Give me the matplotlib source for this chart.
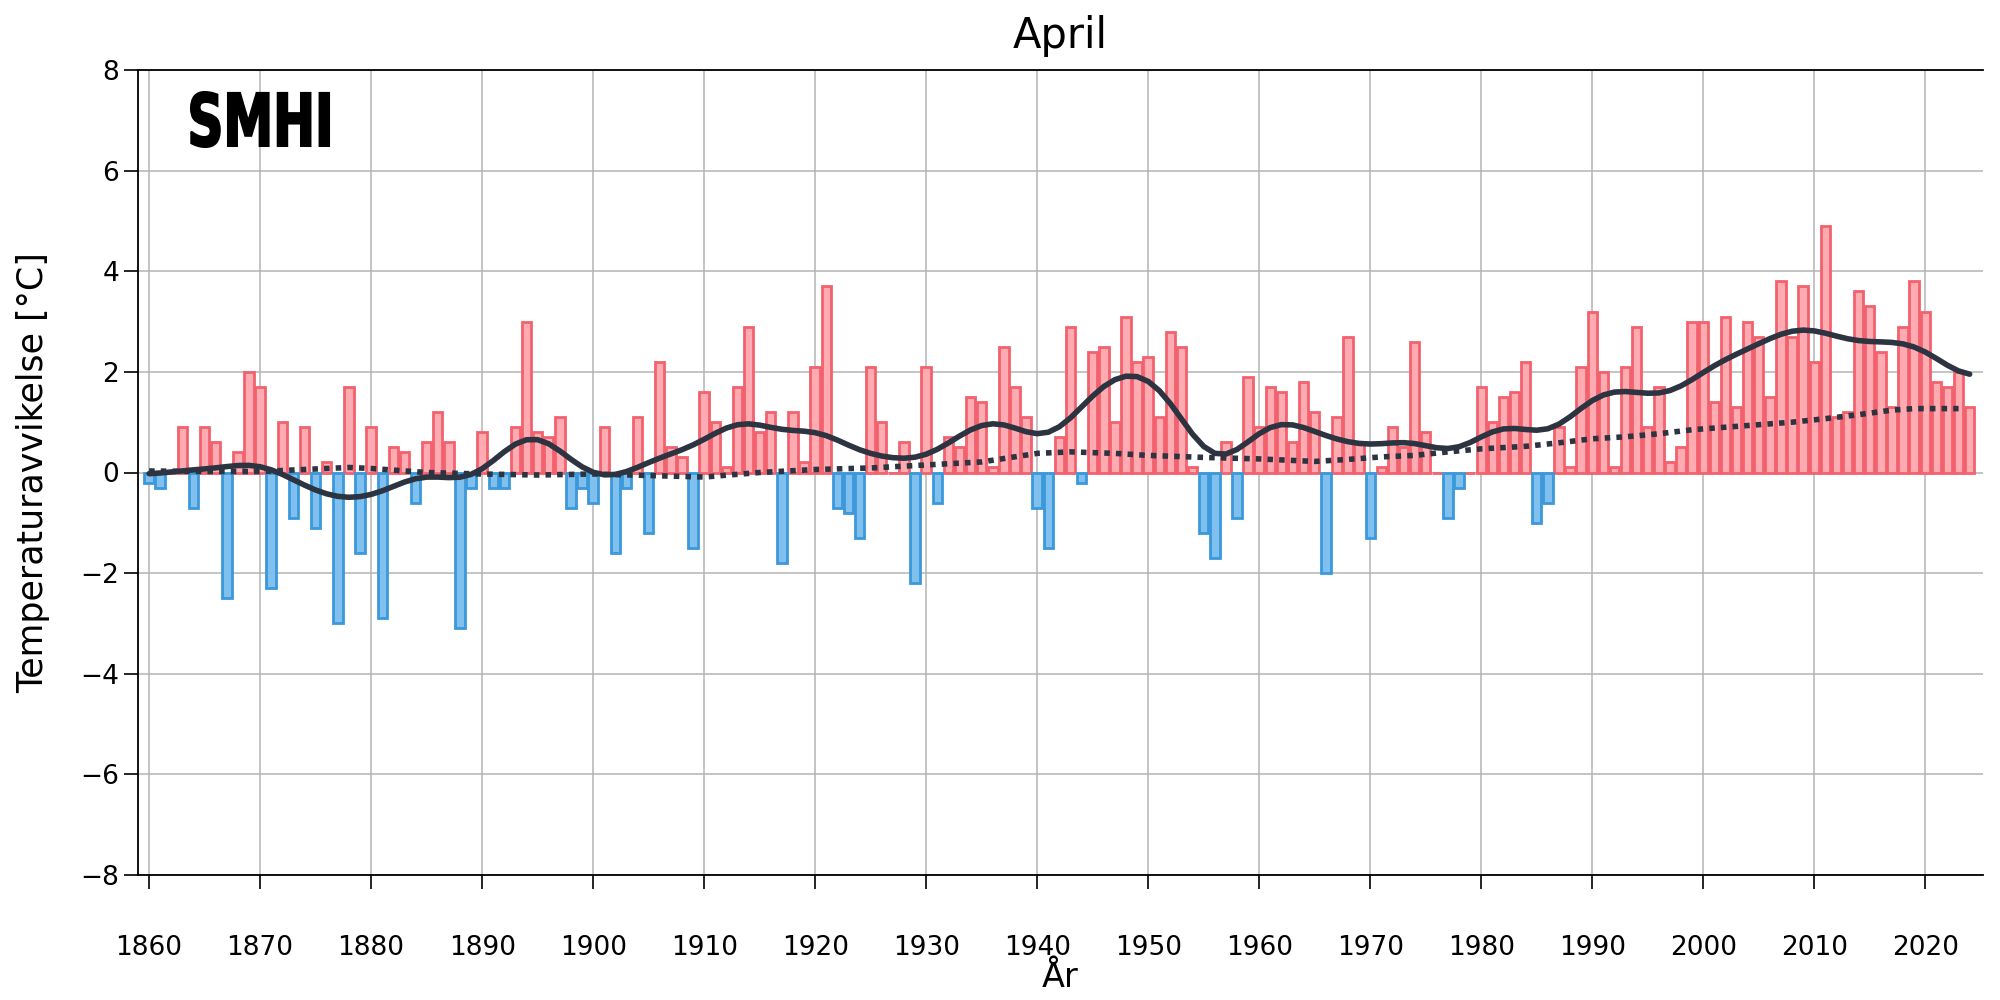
import numpy as np
import matplotlib
matplotlib.use("Agg")
from matplotlib import pyplot as plt
from matplotlib.textpath import TextPath
from matplotlib.patches import PathPatch
from matplotlib.font_manager import FontProperties
from matplotlib.transforms import Affine2D

# April temperature anomalies, 1860-2024
years = np.arange(1860, 2025)
anomaly = [
    -0.2, -0.3, 0.0, 0.9, -0.7, 0.9, 0.6, -2.5, 0.4, 2.0,    # 1860s
    1.7, -2.3, 1.0, -0.9, 0.9, -1.1, 0.2, -3.0, 1.7, -1.6,   # 1870s
    0.9, -2.9, 0.5, 0.4, -0.6, 0.6, 1.2, 0.6, -3.1, -0.3,    # 1880s
    0.8, -0.3, -0.3, 0.9, 3.0, 0.8, 0.7, 1.1, -0.7, -0.3,    # 1890s
    -0.6, 0.9, -1.6, -0.3, 1.1, -1.2, 2.2, 0.5, 0.3, -1.5,   # 1900s
    1.6, 1.0, 0.1, 1.7, 2.9, 0.8, 1.2, -1.8, 1.2, 0.2,       # 1910s
    2.1, 3.7, -0.7, -0.8, -1.3, 2.1, 1.0, 0.0, 0.6, -2.2,    # 1920s
    2.1, -0.6, 0.7, 0.5, 1.5, 1.4, 0.1, 2.5, 1.7, 1.1,       # 1930s
    -0.7, -1.5, 0.7, 2.9, -0.2, 2.4, 2.5, 1.0, 3.1, 2.2,     # 1940s
    2.3, 1.1, 2.8, 2.5, 0.1, -1.2, -1.7, 0.6, -0.9, 1.9,     # 1950s
    0.9, 1.7, 1.6, 0.6, 1.8, 1.2, -2.0, 1.1, 2.7, 0.6,       # 1960s
    -1.3, 0.1, 0.9, 0.5, 2.6, 0.8, 0.0, -0.9, -0.3, 0.0,     # 1970s
    1.7, 1.0, 1.5, 1.6, 2.2, -1.0, -0.6, 0.9, 0.1, 2.1,      # 1980s
    3.2, 2.0, 0.1, 2.1, 2.9, 0.9, 1.7, 0.2, 0.5, 3.0,        # 1990s
    3.0, 1.4, 3.1, 1.3, 3.0, 2.7, 1.5, 3.8, 2.7, 3.7,        # 2000s
    2.2, 4.9, 1.1, 1.2, 3.6, 3.3, 2.4, 1.3, 2.9, 3.8,        # 2010s
    3.2, 1.8, 1.7, 2.0, 1.3,                                  # 2020s
]

# dotted long-term curve
trend_years = [1860, 1865, 1870, 1875, 1878, 1880, 1885, 1890, 1895, 1900,
               1905, 1910, 1915, 1920, 1925, 1930, 1935, 1940, 1943, 1947,
               1950, 1955, 1960, 1965, 1968, 1971, 1974, 1977, 1980, 1984,
               1987, 1990, 1993, 1996, 1999, 2002, 2005, 2008, 2011, 2014,
               2017, 2019, 2023]
trend_values = [0.03, 0.02, 0.02, 0.07, 0.1, 0.08, 0.0, -0.03, -0.05, -0.03,
                -0.06, -0.09, 0.0, 0.06, 0.09, 0.15, 0.21, 0.38, 0.41, 0.38,
                0.34, 0.30, 0.27, 0.22, 0.26, 0.31, 0.34, 0.41, 0.47, 0.52,
                0.59, 0.67, 0.71, 0.77, 0.85, 0.90, 0.95, 1.0, 1.07, 1.15,
                1.24, 1.27, 1.27]

x_ticks = list(range(1860, 2021, 10))
y_ticks = list(range(-8, 9, 2))


def gauss_smooth(values, sigma=3):
    # gaussian filter, about a ten-year mean
    v = np.asarray(values, dtype=float)
    r = int(4 * sigma + 0.5)
    k = np.exp(-0.5 * (np.arange(-r, r + 1) / sigma) ** 2)
    k = k / k.sum()
    padded = np.pad(v, r, mode="symmetric")
    return np.convolve(padded, k, mode="valid")


anom = np.array(anomaly)
pos = anom >= 0

fig = plt.figure(figsize=(20, 10), dpi=100)
ax = fig.add_axes([0.069, 0.125, 0.9225, 0.805])

ax.grid(True, color="#b4b4b4", linewidth=1.1, zorder=0)
ax.bar(years[pos], anom[pos], width=0.85, color="#ffabb1", edgecolor="#f2616d",
       linewidth=2, zorder=2)
ax.bar(years[~pos], anom[~pos], width=0.85, color="#80c0ee", edgecolor="#3b98da",
       linewidth=2, zorder=2)

ax.plot(trend_years, trend_values, color="#2b3440", linewidth=4,
        linestyle=(0, (1, 1.1)), zorder=3)
ax.plot(years, gauss_smooth(anomaly), color="#2b3440", linewidth=4,
        solid_capstyle="round", zorder=4)

ax.set_xlim(1859, 2025.2)
ax.set_ylim(-8, 8)
ax.set_xticks(x_ticks)
ax.set_yticks(y_ticks)
ax.set_yticklabels([str(t).replace("-", "\u2212") for t in y_ticks])
ax.tick_params(axis="both", labelsize=19, length=10, width=1.2, direction="out")
ax.tick_params(axis="x", pad=33)
ax.spines["right"].set_visible(False)
for s in ["left", "top", "bottom"]:
    ax.spines[s].set_linewidth(1.3)

ax.set_title("April", fontsize=30, pad=16)
ax.set_ylabel("Temperaturavvikelse [°C]", fontsize=25, labelpad=22)
ax.set_xlabel("År", fontsize=24, labelpad=0)

# condensed SMHI logo, squeezed into its box (figure fractions)
tp = TextPath((0, 0), "SMHI", size=1,
              prop=FontProperties(family="DejaVu Sans", weight="heavy"))
ext = tp.get_extents()
bx, by, bw, bh = 0.0955, 0.853, 0.069, 0.055
tr = (Affine2D().translate(-ext.x0, -ext.y0)
      .scale(bw / ext.width, bh / ext.height).translate(bx, by))
fig.patches.append(PathPatch(tp, transform=tr + fig.transFigure,
                             facecolor="black", edgecolor="black", lw=1.5))

fig.savefig("out.png", dpi=100)
